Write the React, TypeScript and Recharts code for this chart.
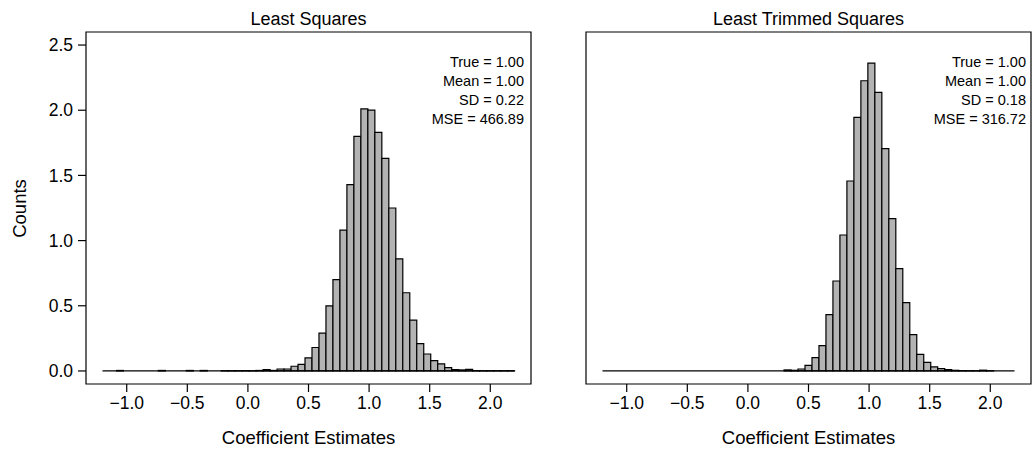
import React from 'react';
import { ComposedChart, Bar, XAxis, YAxis, ReferenceLine, ReferenceArea } from 'recharts';

// histogram bins: 59 equal bins between -1.2 and 2.2
const binCount = 59;
const binMin = -1.2;
const binMax = 2.2;

const xTicks = [-1, -0.5, 0, 0.5, 1, 1.5, 2];
const yTicks = [0, 0.5, 1, 1.5, 2, 2.5];

// Least Squares estimates (density)
const lsCounts = [
    0, 0, 0.004, 0, 0, 0, 0, 0, 0.004, 0,
    0, 0, 0.004, 0, 0.004, 0, 0, 0.002, 0.002, 0.002,
    0.003, 0.002, 0.004, 0.01, 0.004, 0.015, 0.015, 0.036, 0.05, 0.1,
    0.18, 0.29, 0.5, 0.7, 1.08, 1.43, 1.8, 2.01, 2.0, 1.83,
    1.63, 1.25, 0.86, 0.6, 0.39, 0.21, 0.13, 0.08, 0.055, 0.026,
    0.01, 0.008, 0.012, 0.003, 0.002, 0.002, 0.002, 0.002, 0.002
];

// Least Trimmed Squares estimates
const ltsCounts = [
    0, 0, 0, 0, 0, 0, 0, 0, 0, 0,
    0, 0, 0, 0, 0, 0, 0, 0, 0, 0,
    0, 0, 0, 0, 0, 0, 0.008, 0.005, 0.015, 0.043,
    0.102, 0.194, 0.432, 0.69, 1.043, 1.457, 1.945, 2.226, 2.362, 2.137,
    1.705, 1.168, 0.785, 0.524, 0.279, 0.128, 0.066, 0.031, 0.018, 0.01,
    0.005, 0.003, 0.002, 0.002, 0.006, 0.002, 0, 0, 0
];

const lsStats = ['True = 1.00', 'Mean = 1.00', 'SD = 0.22', 'MSE = 466.89'];
const ltsStats = ['True = 1.00', 'Mean = 1.00', 'SD = 0.18', 'MSE = 316.72'];

const font = '"Liberation Sans", Arial, Helvetica, sans-serif';
const xDomain: [number, number] = [-1.336, 2.336];
const yDomain: [number, number] = [-0.1, 2.6];

const binWidth = (binMax - binMin) / binCount;
const toRows = (counts: number[]) =>
    counts.map((count, i) => ({ x: binMin + (i + 0.5) * binWidth, count }));

const fmt = (v: number) => (v < 0 ? '\u2212' + Math.abs(v).toFixed(1) : v.toFixed(1));

const tickStyle = { fill: '#000', fontSize: 17.5, fontFamily: font };

interface PanelProps {
    counts: number[];
    showY: boolean;
    width: number;
    margin: { top: number; right: number; bottom: number; left: number };
}

const Panel: React.FC<PanelProps> = ({ counts, showY, width, margin }) => (
    <ComposedChart width={width} height={451} data={toRows(counts)} margin={margin} barCategoryGap={0} barGap={0}>
        <XAxis
            dataKey="x"
            type="number"
            domain={xDomain}
            ticks={xTicks}
            interval={0}
            allowDataOverflow
            axisLine={false}
            tickLine={{ stroke: '#000', strokeWidth: 1.2 }}
            tickSize={8}
            tickMargin={5}
            tickFormatter={fmt}
            tick={tickStyle}
            height={60}
        />
        <YAxis
            type="number"
            domain={yDomain}
            ticks={yTicks}
            interval={0}
            allowDataOverflow
            hide={!showY}
            width={86}
            axisLine={false}
            tickLine={{ stroke: '#000', strokeWidth: 1.2 }}
            tickSize={8}
            tickMargin={5}
            tickFormatter={fmt}
            tick={tickStyle}
        />
        <ReferenceLine
            segment={[{ x: binMin, y: 0 }, { x: binMax, y: 0 }]}
            stroke="#000"
            strokeWidth={1.2}
        />
        <Bar dataKey="count" fill="#b3b3b3" stroke="#000" strokeWidth={1.2} isAnimationActive={false} />
        <ReferenceArea
            x1={xDomain[0]}
            x2={xDomain[1]}
            y1={yDomain[0]}
            y2={yDomain[1]}
            fill="none"
            fillOpacity={0}
            stroke="#000"
            strokeWidth={1.2}
            ifOverflow="visible"
        />
    </ComposedChart>
);

const abs = (extra: React.CSSProperties): React.CSSProperties => ({
    position: 'absolute',
    fontFamily: font,
    color: '#000',
    whiteSpace: 'nowrap',
    ...extra
});

const Stats: React.FC<{ lines: string[]; right: number }> = ({ lines, right }) => (
    <div style={abs({ top: 53, left: right - 200, width: 200, textAlign: 'right', fontSize: 14.5, lineHeight: '19px' })}>
        {lines.map((l) => (
            <div key={l}>{l}</div>
        ))}
    </div>
);

export default function App() {
    return (
        <div style={{ position: 'absolute', left: 0, top: 0, width: 1033, height: 451, background: '#fff', overflow: 'hidden' }}>
            <div style={{ position: 'absolute', left: 0, top: 0 }}>
                <Panel counts={lsCounts} showY width={540} margin={{ top: 32, right: 9, bottom: 7, left: 0 }} />
            </div>
            <div style={{ position: 'absolute', left: 540, top: 0 }}>
                <Panel counts={ltsCounts} showY={false} width={493} margin={{ top: 32, right: 2, bottom: 7, left: 46 }} />
            </div>

            <div style={abs({ top: 10, left: 86, width: 445, textAlign: 'center', fontSize: 18, lineHeight: '18px' })}>
                Least Squares
            </div>
            <div style={abs({ top: 10, left: 586, width: 445, textAlign: 'center', fontSize: 18, lineHeight: '18px' })}>
                Least Trimmed Squares
            </div>

            <div style={abs({ top: 428, left: 86, width: 445, textAlign: 'center', fontSize: 18.5, lineHeight: '19px' })}>
                Coefficient Estimates
            </div>
            <div style={abs({ top: 428, left: 586, width: 445, textAlign: 'center', fontSize: 18.5, lineHeight: '19px' })}>
                Coefficient Estimates
            </div>

            <div
                style={abs({
                    top: 199,
                    left: -31,
                    width: 100,
                    textAlign: 'center',
                    fontSize: 18.5,
                    lineHeight: '19px',
                    transform: 'rotate(-90deg)'
                })}
            >
                Counts
            </div>

            <Stats lines={lsStats} right={524} />
            <Stats lines={ltsStats} right={1026} />
        </div>
    );
}
